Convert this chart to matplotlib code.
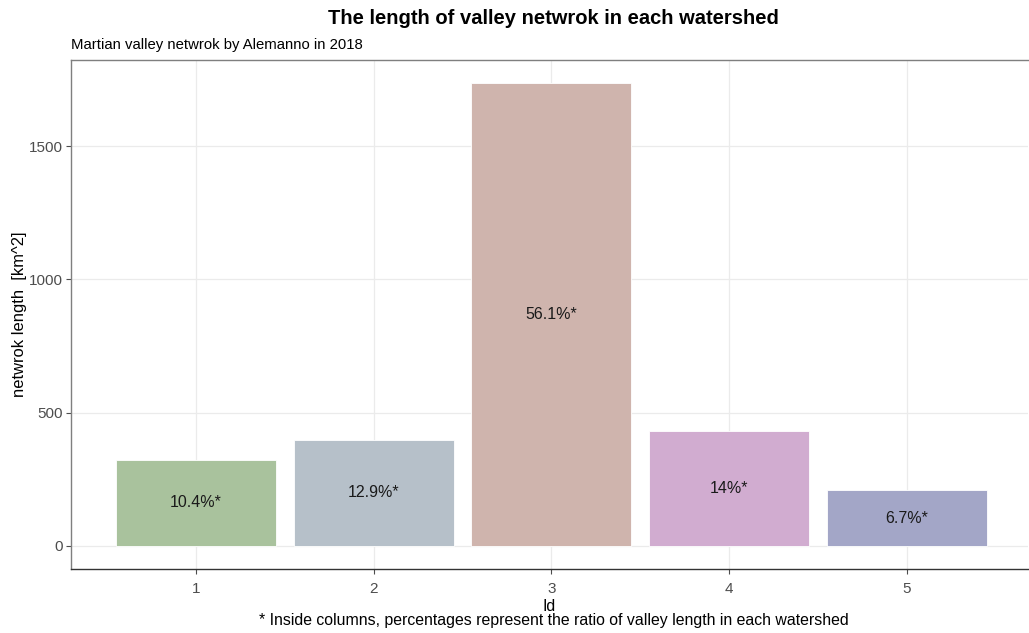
import matplotlib
matplotlib.use("Agg")
import matplotlib.pyplot as plt

plt.rcParams['font.family'] = ['Liberation Sans', 'DejaVu Sans']

ids = [1, 2, 3, 4, 5]
lengths = [322, 398, 1737, 432, 208]
pct_labels = ["10.4%*", "12.9%*", "56.1%*", "14%*", "6.7%*"]
colors = ["#a9c29d", "#b6c0c9", "#cfb4ad", "#d1acd0", "#a3a6c7"]
tick_labels = ["1", "2", "3", "4", "5"]

W, H = 1029, 633
fig = plt.figure(figsize=(W / 100, H / 100), dpi=100)
left, right, top, bottom = 71, 1028, 60, 569
ax = fig.add_axes([left / W, 1 - bottom / H, (right - left) / W, (bottom - top) / H])

ax.bar(ids, lengths, width=0.9, color=colors, edgecolor="white", linewidth=0.6, zorder=2)
for x, v, t in zip(ids, lengths, pct_labels):
    ax.text(x, v / 2, t, ha="center", va="center", fontsize=11.5, color="#1a1a1a", zorder=3)

ax.set_xlim(0.297, 5.681)
ax.set_ylim(-87, 1824)
ax.set_xticks(ids)
ax.set_xticklabels(tick_labels)
ax.set_yticks([0, 500, 1000, 1500])
ax.tick_params(axis="both", colors="#4d4d4d", labelsize=11, length=3.5, width=0.8, labelcolor="#4d4d4d")
ax.tick_params(axis="x", pad=6)
ax.tick_params(axis="y", pad=2.5)
ax.grid(True, color="#ebebeb", linewidth=0.9, zorder=0)
ax.set_axisbelow(True)
for s in ["left", "top"]:
    ax.spines[s].set_color("#7f7f7f")
    ax.spines[s].set_linewidth(1.0)
ax.spines["bottom"].set_color("#333333")
ax.spines["bottom"].set_linewidth(1.0)
ax.spines["right"].set_visible(False)

ax.set_ylabel("netwrok length  [km^2]", fontsize=11.9, color="black")
ax.yaxis.set_label_coords(-(71 - 27) / (right - left), 0.5)
ax.set_xlabel("Id", fontsize=11.4, color="black", labelpad=2)

fig.text(553 / W, 1 - 18 / H, "The length of valley netwrok in each watershed",
         ha="center", va="center", fontsize=14.5, fontweight="bold")
fig.text(71 / W, 1 - 45 / H, "Martian valley netwrok by Alemanno in 2018",
         ha="left", va="center", fontsize=10.7)
fig.text(554 / W, 1 - 621 / H,
         "* Inside columns, percentages represent the ratio of valley length in each watershed",
         ha="center", va="center", fontsize=11.45)

fig.savefig("out.png", dpi=100)
